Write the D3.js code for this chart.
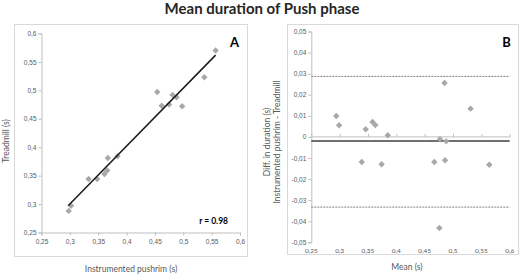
<!DOCTYPE html>
<html><head><meta charset="utf-8">
<script src="https://cdn.jsdelivr.net/npm/d3@7"></script>
<style>
html,body{margin:0;padding:0;background:#fff;}
svg{display:block;font-family:Lato,"Open Sans",sans-serif;}
</style></head>
<body>
<svg id="c" width="526" height="275"></svg>
<script>
// ---- Data ----
const title = "Mean duration of Push phase";
// Panel A: instrumented pushrim (x) vs treadmill (y), seconds
const pushrimA   = [0.557,0.537,0.454,0.462,0.475,0.481,0.488,0.498,0.367,0.384,0.333,0.348,0.361,0.366,0.302,0.298];
const treadmillA = [0.570,0.523,0.497,0.473,0.475,0.492,0.488,0.472,0.381,0.384,0.344,0.344,0.353,0.359,0.297,0.288];
const fitLine = [[0.297,0.297],[0.557,0.562]];
const rLabel = "r = 0.98";
// Panel B: Bland-Altman, mean (x) vs difference (y)
const meanB = [0.294,0.299,0.346,0.358,0.363,0.385,0.477,0.488,0.485,0.531,0.339,0.374,0.467,0.486,0.564,0.476];
const diffB = [0.0099,0.0055,0.0036,0.0071,0.0056,0.0008,-0.0011,-0.0021,0.0256,0.0134,-0.0119,-0.0130,-0.0119,-0.0111,-0.0132,-0.0432];
const bias = -0.0020;
const loaUpper = 0.0287;
const loaLower = -0.0333;
const xTicks = [0.25,0.3,0.35,0.4,0.45,0.5,0.55,0.6];
const yTicksA = [0.25,0.3,0.35,0.4,0.45,0.5,0.55,0.6];
const yTicksB = [-0.05,-0.04,-0.03,-0.02,-0.01,0,0.01,0.02,0.03,0.04,0.05];

const fmt = v => String(+v.toFixed(3)).replace(".", ",");
const svg = d3.select("#c");
const axisCol = "#bfbfbf", textCol = "#595959", ptCol = "#a8a8a8";

// Title
svg.append("text").attr("x",262).attr("y",14).attr("text-anchor","middle")
  .attr("font-size",15).attr("font-weight","bold").attr("fill","#262626").text(title);

// Panel frames
svg.append("rect").attr("x",14.5).attr("y",24.5).attr("width",233).attr("height",232)
  .attr("fill","none").attr("stroke","#d9d9d9");
svg.append("rect").attr("x",287.5).attr("y",24.5).attr("width",231).attr("height",230)
  .attr("fill","none").attr("stroke","#d9d9d9");

function diamond(g, pts, col){
  g.selectAll("path.pt").data(pts).join("path").attr("class","pt")
   .attr("d", d => `M${d[0]},${d[1]-3.2}L${d[0]+3.2},${d[1]}L${d[0]},${d[1]+3.2}L${d[0]-3.2},${d[1]}Z`)
   .attr("fill",col);
}
function styleAxis(g){
  g.select(".domain").attr("stroke",axisCol);
  g.selectAll(".tick line").attr("stroke",axisCol);
  g.selectAll(".tick text").attr("fill",textCol).attr("font-size",6.5);
}

// ---- Panel A ----
const xA = d3.scaleLinear().domain([0.25,0.6]).range([41.5,240]);
const yA = d3.scaleLinear().domain([0.25,0.6]).range([232.5,33.5]);
const gA = svg.append("g");
gA.append("g").attr("transform","translate(0,232.5)")
  .call(d3.axisBottom(xA).tickValues(xTicks).tickFormat(fmt).tickSize(3).tickPadding(4))
  .call(styleAxis);
gA.append("g").attr("transform","translate(41.5,0)")
  .call(d3.axisLeft(yA).tickValues(yTicksA).tickFormat(fmt).tickSize(3).tickPadding(2))
  .call(styleAxis);
diamond(gA, pushrimA.map((v,i)=>[xA(v),yA(treadmillA[i])]), ptCol);
gA.append("line").attr("x1",xA(fitLine[0][0])).attr("y1",yA(fitLine[0][1]))
  .attr("x2",xA(fitLine[1][0])).attr("y2",yA(fitLine[1][1]))
  .attr("stroke","#1a1a1a").attr("stroke-width",1.5);
gA.append("text").attr("x",234.5).attr("y",47).attr("text-anchor","middle")
  .attr("font-size",13).attr("font-weight","bold").attr("fill","#000").text("A");
gA.append("text").attr("x",228).attr("y",223.5).attr("text-anchor","end")
  .attr("font-size",8.5).attr("font-weight","bold").attr("fill","#000").text(rLabel);
gA.append("text").attr("x",131).attr("y",272).attr("text-anchor","middle")
  .attr("font-size",8.5).attr("fill",textCol).text("Instrumented pushrim (s)");
gA.append("text").attr("transform","translate(5.5,141) rotate(-90)").attr("text-anchor","middle")
  .attr("dominant-baseline","central").attr("font-size",8.5).attr("fill",textCol).text("Treadmill (s)");

// ---- Panel B ----
const xB = d3.scaleLinear().domain([0.25,0.6]).range([311.3,509.7]);
const yB = d3.scaleLinear().domain([-0.05,0.05]).range([242.3,31.5]);
const gB = svg.append("g");
gB.append("g").attr("transform","translate(311.3,0)")
  .call(d3.axisLeft(yB).tickValues(yTicksB).tickFormat(fmt).tickSize(3).tickPadding(2))
  .call(styleAxis);
// x axis line at zero, labels at bottom
const xAxB = gB.append("g").attr("transform",`translate(0,${yB(0)})`)
  .call(d3.axisTop(xB).tickValues(xTicks).tickFormat("").tickSize(3));
styleAxis(xAxB);
xAxB.select(".domain").attr("d",`M${xB(0.25)},0H${xB(0.6)}`);
gB.selectAll("text.xl").data(xTicks).join("text").attr("class","xl")
  .attr("x",d=>xB(d)).attr("y",253).attr("text-anchor","middle")
  .attr("font-size",6.5).attr("fill",textCol).text(fmt);
// reference lines
[[loaUpper,"2,1",1,"#7f7f7f"],[loaLower,"2,1",1,"#7f7f7f"],[bias,null,1.5,"#404040"]].forEach(([v,dash,w,c])=>{
  gB.append("line").attr("x1",xB(0.25)).attr("x2",xB(0.6)).attr("y1",yB(v)).attr("y2",yB(v))
    .attr("stroke",c).attr("stroke-width",w).attr("stroke-dasharray",dash);
});
diamond(gB, meanB.map((v,i)=>[xB(v),yB(diffB[i])]), ptCol);
gB.append("text").attr("x",506.5).attr("y",47).attr("text-anchor","middle")
  .attr("font-size",13).attr("font-weight","bold").attr("fill","#000").text("B");
gB.append("text").attr("x",407).attr("y",270).attr("text-anchor","middle")
  .attr("font-size",8.5).attr("fill",textCol).text("Mean (s)");
gB.append("text").attr("transform","translate(266.5,142) rotate(-90)").attr("text-anchor","middle")
  .attr("dominant-baseline","central").attr("font-size",8.5).attr("fill",textCol).text("Diff. in duration (s)");
gB.append("text").attr("transform","translate(276.5,142) rotate(-90)").attr("text-anchor","middle")
  .attr("dominant-baseline","central").attr("font-size",8.5).attr("fill",textCol).text("Instrumented pushrim - Treadmill");
</script>
</body></html>
